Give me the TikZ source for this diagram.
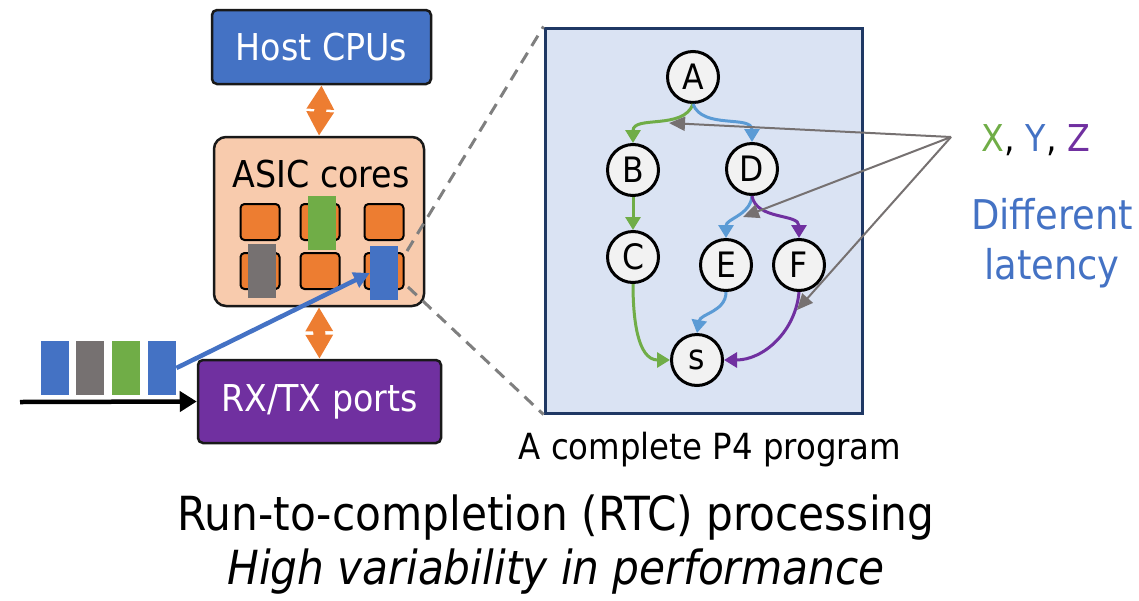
\documentclass[tikz,border=0pt]{standalone}
\usepackage{fontspec}
\setmainfont{DejaVu Sans Condensed}
\usepackage{tikz}
\usetikzlibrary{positioning}
\usetikzlibrary{arrows.meta}
\definecolor{hostblue}{HTML}{4472C4}
\definecolor{asicfill}{HTML}{F8CBAD}
\definecolor{coreorange}{HTML}{ED7D31}
\definecolor{pktgray}{HTML}{767171}
\definecolor{pktgreen}{HTML}{70AD47}
\definecolor{portpurple}{HTML}{7030A0}
\definecolor{edgeblue}{HTML}{5B9BD5}
\definecolor{progfill}{HTML}{DAE3F3}
\definecolor{prognavy}{HTML}{1F3864}
\definecolor{dashgray}{HTML}{7F7F7F}
\tikzset{boxnode/.style={rectangle, rounded corners=5pt, draw=black!90, line width=2.5pt, text=white, font=\fontsize{37}{40}\selectfont}}
\tikzset{corenode/.style={rectangle, rounded corners=4pt, draw=black, line width=2pt, fill=coreorange, minimum width=39pt, minimum height=36pt}}
\tikzset{pktnode/.style={rectangle, minimum width=28pt, minimum height=54pt, inner sep=0pt}}
\tikzset{statenode/.style={circle, draw=black, line width=3pt, fill=black!5, minimum size=51pt, inner sep=0pt, font=\fontsize{35}{36}\selectfont}}
\tikzset{edge/.style={line width=3pt, -{Triangle[length=13pt,width=15pt]}}}
\tikzset{busarrow/.style={draw=coreorange, line width=12pt, {Triangle[length=24pt,width=26pt]}-{Triangle[length=24pt,width=26pt]}}}
\tikzset{pointer/.style={draw=pktgray, line width=2pt, -{Triangle[length=16pt,width=14pt]}}}

\begin{document}
\begin{tikzpicture}[x=1pt, y=-1pt]
    \useasboundingbox (0,0) rectangle (1139,600);

    % switch side
    \node[boxnode, fill=hostblue, minimum width=219pt, minimum height=74pt]    (host)  at (321.5,47)  {Host CPUs};
    \node[boxnode, fill=asicfill, rounded corners=12pt, minimum width=210pt, minimum height=169pt] (asic) at (319,221.5) {};
    \node[font=\fontsize{37}{40}\selectfont]                                  (asiclabel) at (321,174) {ASIC cores};
    \node[boxnode, fill=portpurple, minimum width=243pt, minimum height=83pt]  (ports) at (319.5,401.5) {RX/TX ports};

    \foreach \c/\x in {1/260,2/320,3/384}
        \foreach \r/\y in {1/222,2/271}
            \node[corenode] (core-\r-\c) at (\x,\y) {};

    \node[pktnode, fill=pktgray]   (incore1) at (262,271) {};
    \node[pktnode, fill=pktgreen]  (incore2) at (322,222.5) {};
    \node[pktnode, fill=hostblue]  (incore3) at (384,273) {};

    \draw[busarrow] (host.south) -- (asic.north);
    \draw[busarrow] (asic.south) -- (ports.north);

    % incoming packets
    \node[pktnode, fill=hostblue]              (pkt1) at (55,368) {};
    \node[pktnode, fill=pktgray]  [right=7pt of pkt1] (pkt2) {};
    \node[pktnode, fill=pktgreen] [right=7pt of pkt2] (pkt3) {};
    \node[pktnode, fill=hostblue] [right=8pt of pkt3] (pkt4) {};

    \coordinate (wire) at (20,402);
    \draw[line width=4.5pt, -{Triangle[length=17pt,width=20pt]}] (wire) -- (ports.west);
    \draw[line width=4.5pt, hostblue, -{Triangle[length=16pt,width=16pt]}] (pkt4.east) -- (incore3.west);

    % zoom into one core
    \node[rectangle, draw=prognavy, fill=progfill, line width=3pt, minimum width=317pt, minimum height=385pt] (prog) at (703.5,220.5) {};
    \coordinate (zoomtop) at (407,251);
    \coordinate (zoombot) at (408,287);
    \draw[dashgray, line width=3pt, dash pattern=on 12pt off 8pt] (zoomtop) -- (prog.north west);
    \draw[dashgray, line width=3pt, dash pattern=on 12pt off 8pt] (zoombot) -- (prog.south west);

    % P4 program graph
    \node[statenode] (A) at (693,77)  {A};
    \node[statenode] (B) at (633,170) {B};
    \node[statenode] (D) at (752,169) {D};
    \node[statenode] (C) at (633,257) {C};
    \node[statenode] (E) at (726,265) {E};
    \node[statenode] (F) at (799,265) {F};
    \node[statenode] (s) at (697,360) {s};

    \draw[edge, pktgreen]   (A.south) to[out=-110, in=90] (B.north);
    \draw[edge, edgeblue]   (A.south) to[out=-70, in=90]  (D.north);
    \draw[edge, pktgreen]   (B.south) -- (C.north);
    \draw[edge, edgeblue]   (D.south) to[out=-95, in=90]  (E.north);
    \draw[edge, portpurple] (D.south) to[out=-80, in=90]  (F.north);
    \draw[edge, pktgreen]   (C.south) to[out=-90, in=180] (s.west);
    \draw[edge, edgeblue]   (E.south) to[out=-90, in=80]  (s.north);
    \draw[edge, portpurple] (F.south) to[out=-95, in=0]   (s.east);

    % latency labels
    \coordinate (apex) at (951,137);
    \coordinate (onX) at (669,123);
    \coordinate (onY) at (743,217);
    \coordinate (onZ) at (797,310);
    \draw[pointer] (apex) -- (onX);
    \draw[pointer] (apex) -- (onY);
    \draw[pointer] (apex) -- (onZ);

    \node[font=\fontsize{37}{40}\selectfont] (xyz) at (1036,140) {\textcolor{pktgreen}{X}, \textcolor{hostblue}{Y}, \textcolor{portpurple}{Z}};
    \node[font=\fontsize{41}{50}\selectfont, text=hostblue, align=center] (latency) at (1052,243) {Different\\latency};

    \node[font=\fontsize{36}{40}\selectfont] (caption) at (710,450) {A complete P4 program};
    \node[font=\fontsize{47}{50}\selectfont] (title)   at (556,518) {Run-to-completion (RTC) processing};
    \node[font=\fontsize{47}{50}\selectfont\itshape] (subtitle) at (556,572) {High variability in performance};
\end{tikzpicture}
\end{document}
